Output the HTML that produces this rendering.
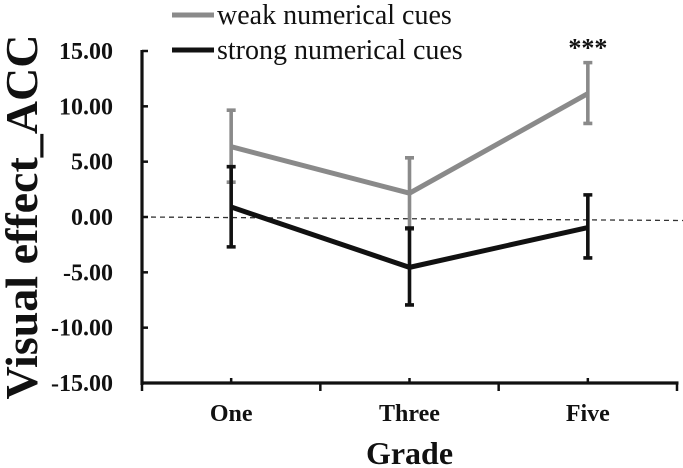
<!DOCTYPE html>
<html><head><meta charset="utf-8"><style>
html,body{margin:0;padding:0;background:#fff;}
svg{display:block;font-family:"Liberation Serif",serif;}
svg text{font-family:"Liberation Serif",serif;}
</style></head><body>
<svg id="chart" width="683" height="468" viewBox="0 0 683 468">
<g id="axes"></g>
<g id="marks"></g>
</svg>
<script>
const categories = ["One","Three","Five"];
const weakMeans = [6.35, 2.15, 11.15];
const weakUpper = [9.65, 5.35, 13.95];
const weakLower = [3.15, -1.1, 8.45];
const strongMeans = [0.9, -4.55, -0.95];
const strongUpper = [4.55, -1.0, 2.0];
const strongLower = [-2.7, -7.95, -3.7];
const yTicks = [15, 10, 5, 0, -5, -10, -15];
const yTickLabels = ["15.00","10.00","5.00","0.00","-5.00","-10.00","-15.00"];

const NS = "http://www.w3.org/2000/svg";
const FONT = "Liberation Serif, serif";
const X0 = 142, X1 = 677, Y15 = 51, Ym15 = 383;
const band = (X1 - X0) / categories.length;
function x(i){ return X0 + band * (i + 0.5); }
function y(v){ return Y15 + (15 - v) * (Ym15 - Y15) / 30; }
function mk(tag, attrs, parent){
  const e = document.createElementNS(NS, tag);
  for (const k in attrs) e.setAttribute(k, attrs[k]);
  if (tag === "text") e.setAttribute("font-family", FONT);
  parent.appendChild(e); return e;
}
const axes = document.getElementById("axes");
const marks = document.getElementById("marks");

const z = mk("line", {x1:X0, y1:y(0), x2:683, y2:y(0)+3.5, stroke:"#333", "stroke-width":1.3, "stroke-dasharray":"5,4"}, axes);



const ya = mk("line", {x1:X0, y1:Y15-1, x2:X0, y2:Ym15+2, stroke:"#111", "stroke-width":3.2}, axes);


yTicks.forEach((t, i) => {
  const tk = mk("line", {x1:X0, y1:y(t), x2:X0+6, y2:y(t), stroke:"#111", "stroke-width":2.5}, axes);
  
  
  const tl = mk("text", {x:113, y:y(t)+8, "text-anchor":"end", "font-size":24, "font-weight":"bold", fill:"#111"}, axes);
  tl.textContent = yTickLabels[i];
  
  
});
const xa = mk("line", {x1:X0-1.5, y1:Ym15, x2:X1+1.5, y2:Ym15, stroke:"#111", "stroke-width":3.2}, axes);


for (let i = 0; i <= categories.length; i++) {
  const bx = X0 + band * i;
  const tk = mk("line", {x1:bx, y1:Ym15, x2:bx, y2:Ym15+8, stroke:"#111", "stroke-width":2.5}, axes);
  
  
}
categories.forEach((c, i) => {
  const tk = mk("line", {x1:x(i), y1:Ym15, x2:x(i), y2:Ym15-5, stroke:"#111", "stroke-width":2.5}, axes);
  
  
  const tl = mk("text", {x:x(i), y:421, "text-anchor":"middle", "font-size":24, "font-weight":"bold", fill:"#111"}, axes);
  tl.textContent = c;
  
  
});
const xt = mk("text", {x:(X0+X1)/2, y:464, "text-anchor":"middle", "font-size":32, "font-weight":"bold", fill:"#111"}, axes);
xt.textContent = "Grade";


const yt = mk("text", {x:0, y:0, "text-anchor":"middle", "font-size":46, "font-weight":"bold", fill:"#111", transform:"translate(37,217) rotate(-90)"}, axes);
yt.textContent = "Visual effect_ACC";



function series(means, up, lo, color, name){
  const g = mk("g", {}, marks);
  
  
  means.forEach((m, i) => {
    const eb = mk("path", {d:`M${x(i)},${y(up[i])}V${y(lo[i])}M${x(i)-4.5},${y(up[i])}H${x(i)+4.5}M${x(i)-4.5},${y(lo[i])}H${x(i)+4.5}`, stroke:color, "stroke-width":3.6, fill:"none"}, g);
    
    
  });
  const pts = means.map((m, i) => x(i) + "," + y(m)).join(" ");
  const pl = mk("polyline", {points:pts, stroke:color, "stroke-width":5, fill:"none", "stroke-linejoin":"miter"}, g);
  
  
}
series(weakMeans, weakUpper, weakLower, "#8a8a8a", "weak-cues");
series(strongMeans, strongUpper, strongLower, "#111", "strong-cues");

const st = mk("text", {x:x(2), y:y(weakUpper[2])-6, "text-anchor":"middle", "font-size":26, "font-weight":"bold", fill:"#111"}, marks);
st.textContent = "***";



const lg = mk("g", {}, axes);


[["weak numerical cues","#8a8a8a",15],["strong numerical cues","#111",50]].forEach(([lab,col,ly]) => {
  const l = mk("line", {x1:172, y1:ly, x2:214, y2:ly, stroke:col, "stroke-width":5}, lg);
  
  
  const t = mk("text", {x:217, y:ly+9, "font-size":28, fill:"#111"}, lg);
  t.textContent = lab;
  
  
});
</script>
</body></html>
